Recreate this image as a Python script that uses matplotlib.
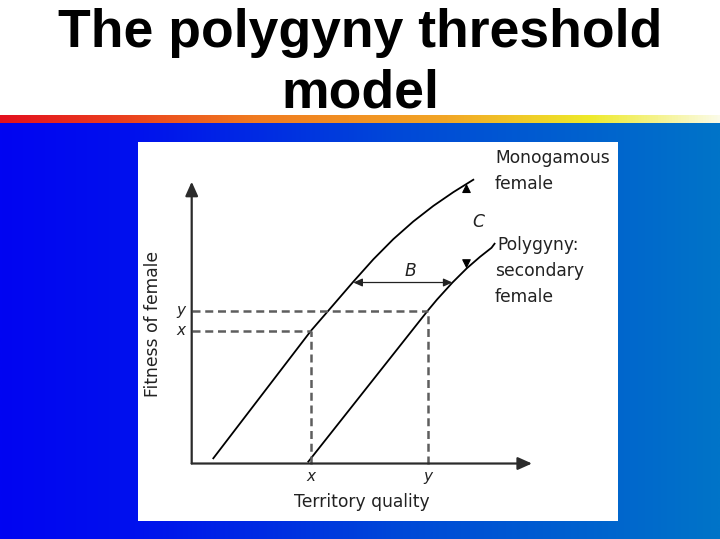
import numpy as np
import matplotlib
matplotlib.use("Agg")
import matplotlib.pyplot as plt
from matplotlib.colors import LinearSegmentedColormap
from matplotlib.patches import Rectangle

W, H = 720, 539

# curves, axis units (both axes run 0..10)
mono_x = [0.635, 3.506, 4.014, 4.749, 5.337, 5.924, 6.512, 7.100, 7.687, 8.275]
mono_y = [0.185, 4.713, 5.422, 6.451, 7.245, 7.961, 8.589, 9.141, 9.628, 10.07]
poly_x = [3.426, 6.935, 7.208, 7.664, 8.081, 8.472, 8.810, 8.900]
poly_y = [0.064, 5.422, 5.818, 6.424, 6.924, 7.334, 7.655, 7.800]

point_x = (3.506, 4.713)   # threshold x on monogamous curve
point_y = (6.935, 5.422)   # threshold y on polygyny curve

b_level = 6.423
b_from, b_to = 4.749, 7.664
c_x = 8.075
c_top, c_bot = 9.927, 6.920

title_lines = ["The polygyny threshold", "model"]
mono_label = ["Monogamous", "female"]
poly_label = ["Polygyny:", "secondary", "female"]
xlabel = "Territory quality"
ylabel = "Fitness of female"

fig = plt.figure(figsize=(7.2, 5.39), dpi=100, facecolor="white")

# background: white title band, rainbow stripe, blue gradient
bg = fig.add_axes([0, 0, 1, 1])
bg.set_xlim(0, W)
bg.set_ylim(H, 0)
bg.axis("off")

blue = LinearSegmentedColormap.from_list(
    "blue", [(0.0, "#0004f2"), (0.18, "#0010ee"), (0.55, "#0048d8"), (1.0, "#0074c8")])
stripe = LinearSegmentedColormap.from_list(
    "stripe", [(0.0, "#e3101e"), (0.15, "#ea3a1e"), (0.35, "#f07a20"),
               (0.62, "#f2a626"), (0.82, "#eeea2a"), (1.0, "#fbfbe8")])
grad = np.linspace(0, 1, 512)[None, :]
bg.imshow(grad, cmap=blue, extent=(0, W, H, 123), aspect="auto", zorder=0)
bg.imshow(grad, cmap=stripe, extent=(0, W, 123, 115.5), aspect="auto", zorder=0)
bg.add_patch(Rectangle((138, 142), 480, 379, facecolor="white", edgecolor="none", zorder=1))

for txt, base in zip(title_lines, [47, 107]):
    bg.text(360, base, txt, ha="center", va="baseline", fontsize=38.5,
            fontweight="bold", family="Liberation Sans", color="black")

# chart area sits on the white panel
ax = fig.add_axes([138 / W, 18 / H, 480 / W, 379 / H])
ax.set_xlim(-1.578, 12.527)
ax.set_ylim(-2.040, 11.409)
ax.axis("off")
ax.patch.set_alpha(0)

axis_kw = dict(arrowstyle="-|>,head_length=0.85,head_width=0.38", mutation_scale=10,
               lw=1.6, color="#2b2b2b", shrinkA=0, shrinkB=0)
ax.annotate("", xy=(10, 0), xytext=(0, 0), arrowprops=axis_kw)
ax.annotate("", xy=(0, 10), xytext=(0, 0), arrowprops=axis_kw)

ax.plot(mono_x, mono_y, color="black", lw=1.3, solid_joinstyle="round")
ax.plot(poly_x, poly_y, color="black", lw=1.3, solid_joinstyle="round")

dash = dict(color="#5e5e5e", lw=1.8, linestyle=(0, (3.2, 1.9)))
for px, py in [point_x, point_y]:
    ax.plot([0, px], [py, py], **dash)
    ax.plot([px, px], [0, py], **dash)

ax.annotate("", xy=(b_to, b_level), xytext=(b_from, b_level),
            arrowprops=dict(arrowstyle="<|-|>,head_length=0.9,head_width=0.4",
                            mutation_scale=6, lw=0.9, color="#222222",
                            shrinkA=0, shrinkB=0))
head_kw = dict(arrowstyle="-|>,head_length=0.9,head_width=0.45", mutation_scale=6,
               lw=0.8, color="black", shrinkA=0, shrinkB=0)
ax.annotate("", xy=(c_x, c_top), xytext=(c_x, c_top - 0.25), arrowprops=head_kw)
ax.annotate("", xy=(c_x, c_bot), xytext=(c_x, c_bot + 0.25), arrowprops=head_kw)

lab = dict(family="DejaVu Sans", color="#222222", fontsize=12.3)
for txt, yy in zip(mono_label, [10.664, 9.741]):
    ax.text(8.913, yy, txt, ha="left", va="baseline", **lab)
for txt, xx, yy in zip(poly_label, [8.972, 8.913, 8.913], [7.576, 6.654, 5.731]):
    ax.text(xx, yy, txt, ha="left", va="baseline", **lab)

ax.text(4.996, -1.544, xlabel, ha="center", va="baseline", **lab)
ax.text(-0.990, 4.950, ylabel, ha="center", va="baseline", rotation=90,
        rotation_mode="anchor", **lab)

tick = dict(family="DejaVu Sans", color="#222222", fontsize=11, style="italic")
ax.text(point_x[0], -0.62, "x", ha="center", va="baseline", **tick)
ax.text(point_y[0], -0.62, "y", ha="center", va="baseline", **tick)
ax.text(-0.19, point_x[1] - 0.15, "x", ha="right", va="baseline", **tick)
ax.text(-0.19, point_y[1] - 0.15, "y", ha="right", va="baseline", **tick)

ax.text(6.414, 6.654, "B", ha="center", va="baseline", style="italic", **lab)
ax.text(8.414, 8.393, "C", ha="center", va="baseline", style="italic", **lab)

fig.savefig("out.png", dpi=100)
